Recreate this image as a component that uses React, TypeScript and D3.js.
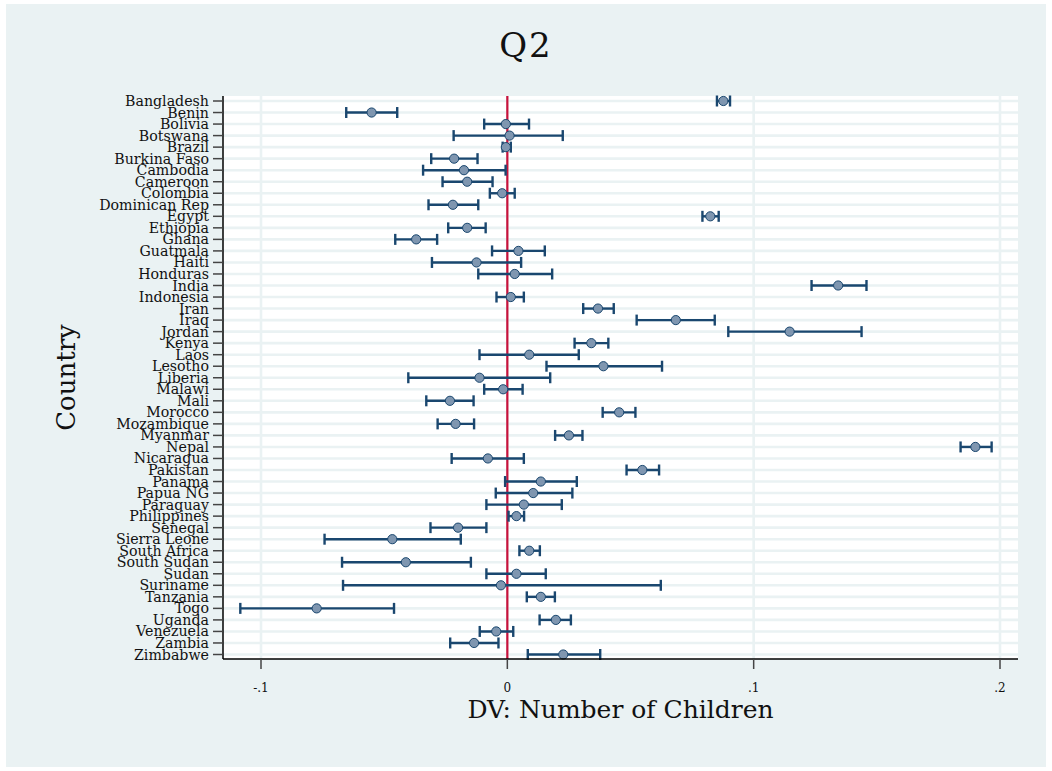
import React from "react";
import * as d3 from "d3";

const countries = [
  "Bangladesh", "Benin", "Bolivia", "Botswana", "Brazil", "Burkina Faso", "Cambodia",
  "Cameroon", "Colombia", "Dominican Rep", "Egypt", "Ethiopia", "Ghana", "Guatmala",
  "Haiti", "Honduras", "India", "Indonesia", "Iran", "Iraq", "Jordan", "Kenya", "Laos",
  "Lesotho", "Liberia", "Malawi", "Mali", "Morocco", "Mozambique", "Myanmar", "Nepal",
  "Nicaragua", "Pakistan", "Panama", "Papua NG", "Paraguay", "Philippines", "Senegal",
  "Sierra Leone", "South Africa", "South Sudan", "Sudan", "Suriname", "Tanzania", "Togo",
  "Uganda", "Venezuela", "Zambia", "Zimbabwe",
];

const estimates = [
  0.0877, -0.0551, -0.0006, 0.0009, -0.0006, -0.0216, -0.0176,
  -0.0163, -0.0021, -0.0221, 0.0824, -0.0163, -0.037, 0.0045,
  -0.0125, 0.003, 0.1343, 0.0014, 0.0368, 0.0684, 0.1146, 0.0341, 0.0089,
  0.039, -0.0113, -0.0017, -0.0233, 0.0454, -0.021, 0.025, 0.19,
  -0.0079, 0.0548, 0.0136, 0.0105, 0.0067, 0.0037, -0.02,
  -0.0467, 0.0089, -0.0412, 0.0037, -0.0026, 0.0136, -0.0774,
  0.0197, -0.0045, -0.0135, 0.0227,
];

const lower = [
  0.0851, -0.0654, -0.0094, -0.0218, -0.0019, -0.0309, -0.0342,
  -0.0263, -0.0071, -0.032, 0.0792, -0.024, -0.0455, -0.0062,
  -0.0306, -0.0118, 0.1235, -0.0044, 0.0308, 0.0525, 0.0897, 0.0273, -0.0113,
  0.0159, -0.0402, -0.0094, -0.0329, 0.0387, -0.0283, 0.0194, 0.184,
  -0.0226, 0.0484, -0.0009, -0.0047, -0.0085, 0.0005, -0.0312,
  -0.0742, 0.0049, -0.0671, -0.0085, -0.0667, 0.0079, -0.1084,
  0.0131, -0.0112, -0.0232, 0.0083,
];

const upper = [
  0.0904, -0.0447, 0.0088, 0.0225, 0.0014, -0.0121, -0.0007,
  -0.006, 0.003, -0.0118, 0.0858, -0.0088, -0.0285, 0.0152,
  0.0056, 0.0182, 0.1458, 0.0067, 0.0432, 0.0842, 0.1438, 0.041, 0.029,
  0.0628, 0.0174, 0.0062, -0.0137, 0.052, -0.0135, 0.0305, 0.1966,
  0.0067, 0.0616, 0.0282, 0.0264, 0.0221, 0.0068, -0.0085,
  -0.0189, 0.0132, -0.0148, 0.0156, 0.0623, 0.0193, -0.046,
  0.0258, 0.0024, -0.0036, 0.0377,
];

const xTicks = [-0.1, 0, 0.1, 0.2];
const xTickLabels = ["-.1", "0", ".1", ".2"];

const title = "Q2";
const xTitle = "DV: Number of Children";
const yTitle = "Country";

const W = 1052;
const H = 771;
const BG = "#eaf2f3";
const NAVY = "#1a476f";
const FILL = "#7f96b0";
const RED = "#c8123c";
const FONT = "'DejaVu Serif', serif";

export default function App() {
  const plot = { left: 223, right: 1018, top: 96, bottom: 659 };
  const x = d3.scaleLinear().domain([-0.1, 0.2]).range([261, 1000]);
  const y = d3.scalePoint<string>().domain(countries).range([101, 654.5]);
  const capH = 5.5;

  return (
    <svg
      width={W}
      height={H}
      style={{ position: "absolute", left: 0, top: 0, display: "block" }}
    >
      <rect x={0} y={0} width={W} height={H} fill="#ffffff" />
      <rect x={6} y={4} width={1040} height={763} fill={BG} />
      <rect
        x={plot.left}
        y={plot.top}
        width={plot.right - plot.left}
        height={plot.bottom - plot.top}
        fill="#ffffff"
      />
      {countries.map((c) => (
        <line
          key={"hg" + c}
          x1={plot.left}
          x2={plot.right}
          y1={y(c)}
          y2={y(c)}
          stroke={BG}
          strokeWidth={2.6}
        />
      ))}
      {xTicks.map((t) => (
        <line
          key={"vg" + t}
          x1={x(t)}
          x2={x(t)}
          y1={plot.top}
          y2={plot.bottom}
          stroke={BG}
          strokeWidth={2.6}
        />
      ))}
      <line
        x1={x(0)}
        x2={x(0)}
        y1={plot.top}
        y2={plot.bottom}
        stroke={RED}
        strokeWidth={2.2}
      />
      {countries.map((c, i) => {
        const yy = y(c) as number;
        const x1 = x(lower[i]);
        const x2 = x(upper[i]);
        return (
          <g key={"ci" + c} stroke={NAVY} strokeWidth={2.4} fill="none">
            <line x1={x1} x2={x2} y1={yy} y2={yy} />
            <line x1={x1} x2={x1} y1={yy - capH} y2={yy + capH} />
            <line x1={x2} x2={x2} y1={yy - capH} y2={yy + capH} />
          </g>
        );
      })}
      {countries.map((c, i) => (
        <circle
          key={"pt" + c}
          cx={x(estimates[i])}
          cy={y(c)}
          r={4.6}
          fill={FILL}
          stroke={NAVY}
          strokeWidth={1}
        />
      ))}
      <line x1={plot.left} x2={plot.left} y1={plot.top} y2={plot.bottom} stroke="#000" strokeWidth={1.5} />
      <line x1={plot.left} x2={plot.right} y1={plot.bottom} y2={plot.bottom} stroke="#000" strokeWidth={1.5} />
      {countries.map((c) => (
        <g key={"yt" + c}>
          <line
            x1={plot.left - 10}
            x2={plot.left}
            y1={y(c)}
            y2={y(c)}
            stroke="#444"
            strokeWidth={1.5}
          />
          <text
            x={plot.left - 14}
            y={(y(c) as number) + 5}
            textAnchor="end"
            fontFamily={FONT}
            fontSize={14.2}
            fill="#111"
          >
            {c}
          </text>
        </g>
      ))}
      {xTicks.map((t, i) => (
        <g key={"xt" + t}>
          <line
            x1={x(t)}
            x2={x(t)}
            y1={plot.bottom}
            y2={plot.bottom + 10}
            stroke="#444"
            strokeWidth={1.5}
          />
          <text
            x={x(t)}
            y={plot.bottom + 33}
            textAnchor="middle"
            fontFamily={FONT}
            fontSize={12}
            fill="#111"
          >
            {xTickLabels[i]}
          </text>
        </g>
      ))}
      <text
        x={(plot.left + plot.right) / 2}
        y={718}
        textAnchor="middle"
        fontFamily={FONT}
        fontSize={25}
        fill="#111"
      >
        {xTitle}
      </text>
      <text
        transform={`translate(75, ${(plot.top + plot.bottom) / 2}) rotate(-90)`}
        textAnchor="middle"
        fontFamily={FONT}
        fontSize={26}
        fill="#111"
      >
        {yTitle}
      </text>
      <text
        x={W / 2}
        y={57}
        textAnchor="middle"
        fontFamily={FONT}
        fontSize={34}
        letterSpacing={2}
        fill="#111"
      >
        {title}
      </text>
    </svg>
  );
}
